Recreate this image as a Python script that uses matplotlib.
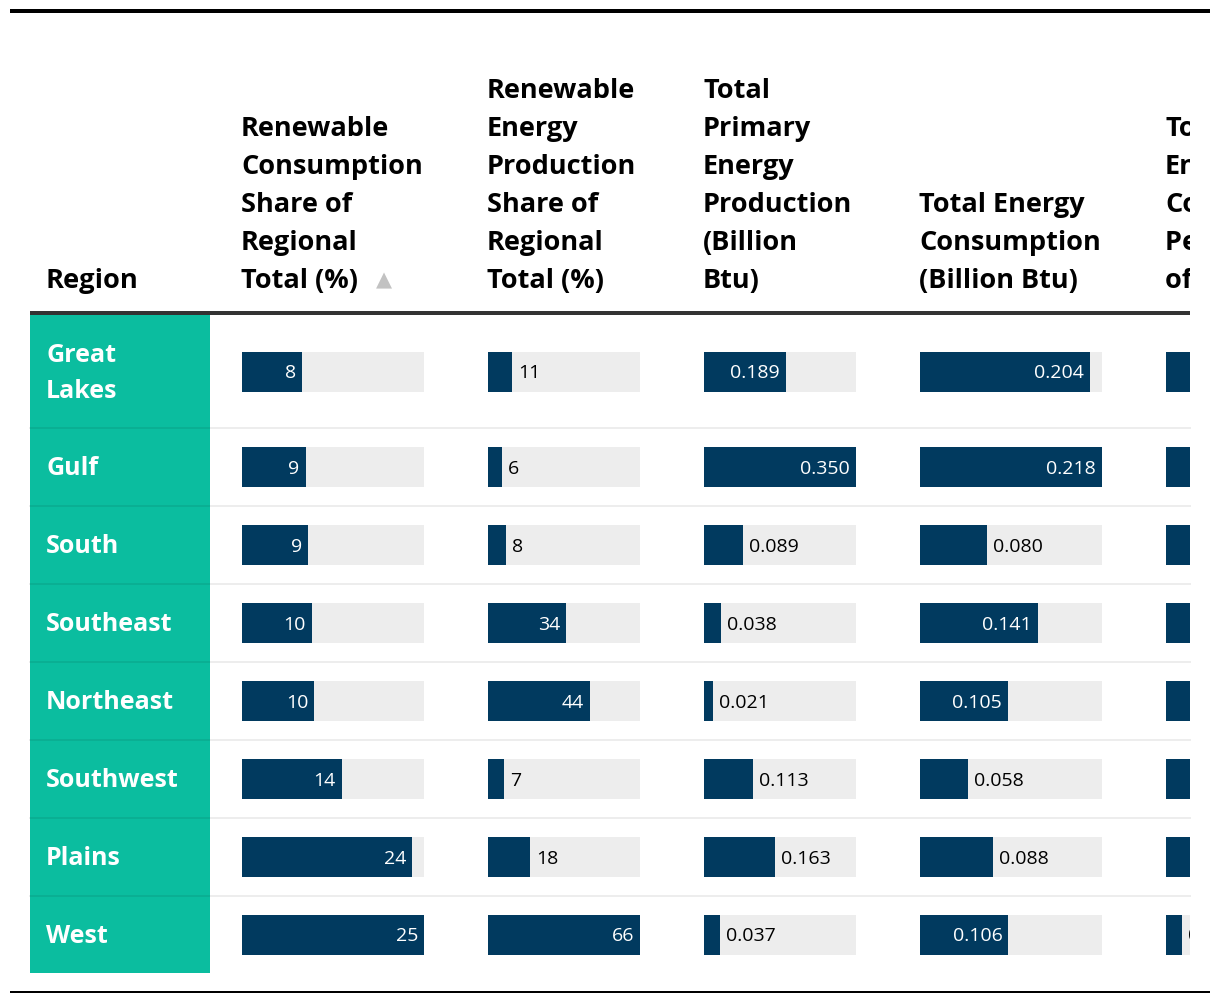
import numpy as np
import matplotlib
matplotlib.use("Agg")
import matplotlib.pyplot as plt
from matplotlib.transforms import Bbox, TransformedBbox

# data
regions = ["Great\nLakes", "Gulf", "South", "Southeast", "Northeast", "Southwest", "Plains", "West"]
headers = [
    "Renewable\nConsumption\nShare of\nRegional\nTotal (%)",
    "Renewable\nEnergy\nProduction\nShare of\nRegional\nTotal (%)",
    "Total\nPrimary\nEnergy\nProduction\n(Billion\nBtu)",
    "Total Energy\nConsumption\n(Billion Btu)",
    "Total\nEnergy\nConsumption\nPer Capita\nof Region",
]
renew_cons_share = [8.3, 8.8, 9.1, 9.7, 10.0, 13.8, 23.6, 25.2]
renew_prod_share = [10.6, 6.2, 7.8, 34.0, 44.3, 7.0, 18.2, 66.0]
total_production = [0.189, 0.350, 0.089, 0.038, 0.021, 0.113, 0.163, 0.037]
total_consumption = [0.204, 0.218, 0.080, 0.141, 0.105, 0.058, 0.088, 0.106]
cons_per_capita = [0.33, 0.41, 0.30, 0.28, 0.24, 0.22, 0.38, 0.036]

columns = [renew_cons_share, renew_prod_share, total_production, total_consumption, cons_per_capita]
formats = ["{:.0f}", "{:.0f}", "{:.3f}", "{:.3f}", "{:.3f}"]

# layout (pixels)
W, H = 1220, 1004
NAVY = "#013a5f"
TEAL = "#0bbd9f"
BG = "#ededed"
col_left = [242, 488, 704, 920, 1166]
col_width = [182, 152, 152, 182, 182]
clip_right = 1190
row_h = [113, 78, 78, 78, 78, 78, 78, 77]
table_top = 316
row_edges = table_top + np.concatenate([[0], np.cumsum(row_h)])
row_mid = (row_edges[:-1] + row_edges[1:]) / 2
bar_h = 40
header_base = 288
line_gap = 38

plt.rcParams["font.family"] = ["Open Sans", "DejaVu Sans"]

fig = plt.figure(figsize=(W / 100, H / 100), dpi=100)
ax = fig.add_axes([0, 0, 1, 1])
ax.set_xlim(0, W)
ax.set_ylim(H, 0)
ax.axis("off")
clip_box = TransformedBbox(Bbox([[0, 0], [clip_right, H]]), ax.transData)

# rules
ax.plot([10, 1210], [12, 12], color="black", lw=4 * 0.72, solid_capstyle="butt")
ax.plot([10, 1210], [993, 993], color="black", lw=2 * 0.72, solid_capstyle="butt")
ax.plot([30, clip_right], [314, 314], color="#333333", lw=4 * 0.72, solid_capstyle="butt")

# region column
ax.add_patch(plt.Rectangle((30, table_top), 180, row_edges[-1] - table_top, color=TEAL, lw=0))
for y in row_edges[1:-1]:
    ax.plot([30, clip_right], [y, y], color="black", alpha=0.07, lw=2 * 0.72)

ax.text(46, header_base, "Region", fontsize=19.6, fontweight="bold", va="baseline", ha="left")
for name, y in zip(regions, row_mid):
    ax.text(46, y + 1, name, fontsize=18, fontweight="bold", color="white",
            va="center", ha="left", linespacing=1.55)

# headers, bottom aligned
for i, head in enumerate(headers):
    lines = head.split("\n")
    for j, line in enumerate(lines):
        y = header_base - line_gap * (len(lines) - 1 - j)
        t = ax.text(col_left[i] - 1, y, line, fontsize=19.5, fontweight="bold",
                    va="baseline", ha="left", clip_on=True)
        t.set_clip_box(clip_box)
ax.text(384, 286, "\u25b2", fontsize=15, color="#c2c2c2", ha="center", va="baseline",
        family=["DejaVu Sans"])

# bar columns
for i, vals in enumerate(columns):
    vmax = max(vals)
    right = min(col_left[i] + col_width[i], clip_right)
    cax = fig.add_axes([col_left[i] / W, 0, (right - col_left[i]) / W, 1])
    cax.set_xlim(0, vmax * (right - col_left[i]) / col_width[i])
    cax.set_ylim(H, 0)
    cax.axis("off")
    cax.patch.set_alpha(0)
    cax.barh(row_mid, [vmax] * len(vals), height=bar_h, color=BG, lw=0)
    cax.barh(row_mid, vals, height=bar_h, color=NAVY, lw=0)
    px = col_width[i] / vmax
    for v, y in zip(vals, row_mid):
        lab = formats[i].format(v)
        bar_px = v * px
        if bar_px >= len(lab) * 11 + 24:
            cax.text(v - 6 / px, y + 1, lab, color="white", fontsize=14, ha="right",
                     va="center", clip_on=True)
        else:
            cax.text(v + 6 / px, y + 1, lab, color="black", fontsize=14, ha="left",
                     va="center", clip_on=True)

fig.savefig("out.png", dpi=100)
